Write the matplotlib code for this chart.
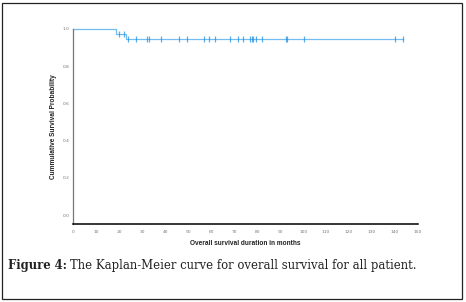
import numpy as np
import matplotlib.pyplot as plt
from matplotlib.patches import Rectangle

# Kaplan-Meier step values
event_times = [0, 18.6, 23.0, 143.3]
surv_values = [1.0, 0.973, 0.944, 0.944]
censor_times = [20.0, 22.1, 23.7, 27.2, 32.0, 32.7, 38.3, 45.9, 49.5, 56.8, 59.0,
                61.6, 68.1, 71.6, 73.8, 76.9, 77.9, 78.3, 79.5, 82.1, 92.7, 93.0,
                100.4, 140.2, 143.3]
xticks = list(range(0, 151, 10))
yticks = [0.0, 0.2, 0.4, 0.6, 0.8, 1.0]


def surv_at(t):
    s = surv_values[0]
    for et, sv in zip(event_times, surv_values):
        if t >= et:
            s = sv
    return s


fig = plt.figure(figsize=(4.66, 3.02), dpi=100)
ax = fig.add_axes([0.1577, 0.2583, 0.7393, 0.6457])

ax.step(event_times, surv_values, where='post', color='#74bdf0', lw=0.9, clip_on=False)
cy = [surv_at(t) for t in censor_times]
ax.plot(censor_times, cy, ls='none', marker='|', ms=4, mew=0.9,
        color='#1a8ce0', alpha=0.7, clip_on=False)

ax.set_xlim(0, 150)
ax.set_ylim(-0.048, 1.0)
ax.set_xticks(xticks)
ax.set_yticks(yticks)
ax.set_xticklabels([str(v) for v in xticks])
ax.set_yticklabels(['%.1f' % v for v in yticks])
ax.tick_params(length=0, labelsize=3.2, labelcolor='#777777')
ax.tick_params(axis='x', pad=4)
ax.tick_params(axis='y', pad=3)

for s in ['top', 'right']:
    ax.spines[s].set_visible(False)
ax.spines['left'].set_color('#777777')
ax.spines['left'].set_linewidth(0.9)
ax.spines['bottom'].set_color('black')
ax.spines['bottom'].set_linewidth(1.1)

ax.set_xlabel('Overall survival duration in months', fontsize=4.7,
              fontweight='bold', color='#222222', labelpad=5, family='Liberation Sans')
ax.set_ylabel('Cummulative Survival Probability', fontsize=4.7,
              fontweight='bold', color='#222222', labelpad=4, family='Liberation Sans')

# outer frame and caption
fig.patches.append(Rectangle((1.5 / 466, 3 / 302), 460.5 / 466, 296 / 302,
                             transform=fig.transFigure, fill=False,
                             edgecolor='#222222', lw=0.9))
t1 = fig.text(8 / 466, 1 - 266 / 302, 'Figure 4:', fontsize=8.4, fontweight='bold',
              family='DejaVu Serif', va='center', ha='left', color='#222222')
r = fig.canvas.get_renderer()
x2 = t1.get_window_extent(r).x1 + 3.5
fig.text(x2 / 466, 1 - 266 / 302,
         'The Kaplan-Meier curve for overall survival for all patient.',
         fontsize=8.4, family='DejaVu Serif', va='center', ha='left', color='#222222')

fig.savefig('out.png', dpi=100)
